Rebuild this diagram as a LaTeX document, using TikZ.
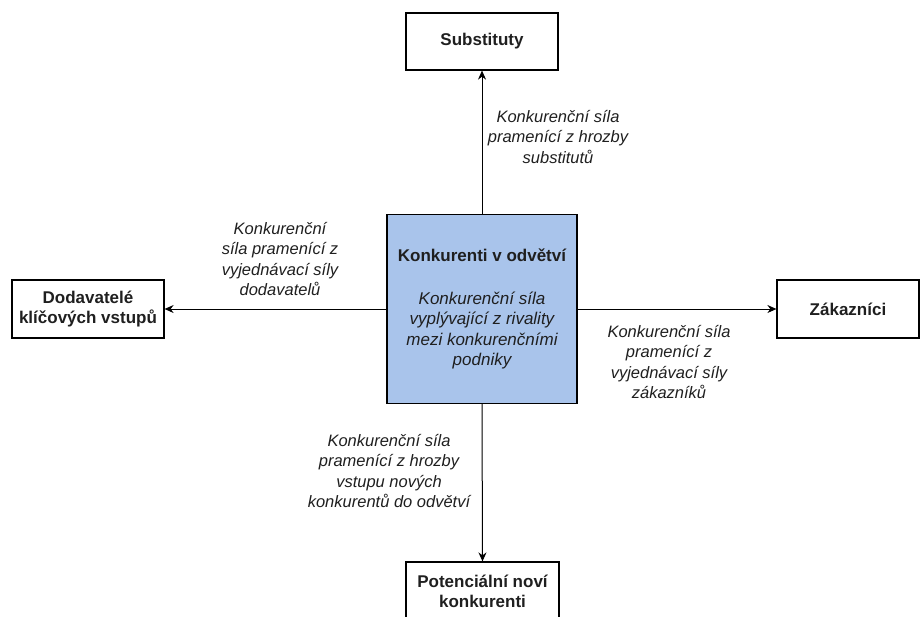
\documentclass[tikz,border=0pt]{standalone}
\usepackage{fontspec}
\setmainfont{Liberation Sans}
\usetikzlibrary{arrows.meta}
\definecolor{boxblue}{HTML}{A9C4EB}
\definecolor{txt}{HTML}{1F1F1F}
\newcommand{\ctrit}[1]{{\mdseries\itshape #1}}
\begin{document}
\begin{tikzpicture}[x=1pt,y=-1pt,
  box/.style={draw=black, line width=1.2pt, inner sep=0pt, align=center, text=txt,
    font=\bfseries\fontsize{17}{20.5}\selectfont},
  lbl/.style={align=center, inner sep=0pt, text=txt, font=\itshape\fontsize{16.5}{20.5}\selectfont},
  arr/.style={-{Stealth[length=9pt,width=8pt]}, line width=1pt}]
\useasboundingbox (0,0) rectangle (921,616);
\clip (0,0) rectangle (921,616);
\node[box, minimum width=152pt, minimum height=57pt] (sub) at (482,41.5) {Substituty};
\node[box, fill=boxblue, minimum width=190pt, minimum height=189pt] (kon) at (482,309)
  {Konkurenti v odvětví\\[22pt]\ctrit{Konkurenční síla}\\\ctrit{vyplývající z rivality}\\\ctrit{mezi konkurenčními}\\\ctrit{podniky}};
\node[box, minimum width=152pt, minimum height=58pt] (dod) at (88,309) {Dodavatelé\\klíčových vstupů};
\node[box, minimum width=142pt, minimum height=58pt] (zak) at (848,309) {Zákazníci};
\node[box, minimum width=153pt, minimum height=59pt] (pot) at (482.5,591.5) {Potenciální noví\\konkurenti};
\draw[arr] (kon.north) -- (sub.south);
\draw[arr] (kon.west) -- (dod.east);
\draw[arr] (kon.east) -- (zak.west);
\draw[arr] (kon.south) -- (pot.north);
\node[lbl] (l1) at (558,137) {Konkurenční síla\\pramenící z hrozby\\substitutů};
\node[lbl] (l2) at (280,259) {Konkurenční\\síla pramenící z\\vyjednávací síly\\dodavatelů};
\node[lbl] (l3) at (669,362) {Konkurenční síla\\pramenící z\\vyjednávací síly\\zákazníků};
\node[lbl] (l4) at (389,471) {Konkurenční síla\\pramenící z hrozby\\vstupu nových\\konkurentů do odvětví};
\end{tikzpicture}
\end{document}
